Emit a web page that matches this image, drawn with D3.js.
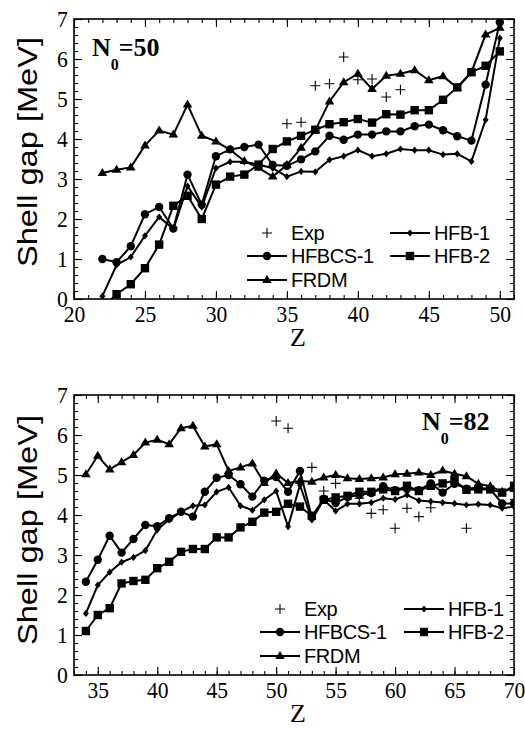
<!DOCTYPE html>
<html>
<head>
<meta charset="utf-8">
<script src="https://cdn.jsdelivr.net/npm/d3@7/dist/d3.min.js"></script>
<style>
  body { margin: 0; background: #fff; }
  svg { display: block; }
</style>
</head>
<body>
<div id="chart"></div>
<script>
// ---- data, N0 = 50 panel
const zTop = [22, 23, 24, 25, 26, 27, 28, 29, 30, 31, 32, 33, 34, 35, 36, 37, 38, 39, 40, 41, 42, 43, 44, 45, 46, 47, 48, 49, 50];
const hfbcsTop = [1.00, 0.92, 1.32, 2.12, 2.30, 1.76, 3.11, 2.36, 3.57, 3.74, 3.80, 3.86, 3.35, 3.33, 3.49, 3.69, 4.08, 3.98, 4.11, 4.11, 4.19, 4.19, 4.32, 4.36, 4.22, 4.07, 3.96, 5.36, 6.92];
const hfb1Top = [0.07, 0.85, 1.05, 1.58, 2.05, 1.75, 2.82, 2.30, 3.27, 3.43, 3.43, 3.36, 3.27, 3.06, 3.19, 3.18, 3.48, 3.57, 3.72, 3.57, 3.63, 3.75, 3.72, 3.72, 3.61, 3.63, 3.44, 4.48, 6.52];
const hfb2Top = [-0.22, 0.12, 0.37, 0.77, 1.36, 2.33, 2.58, 2.00, 2.86, 3.06, 3.11, 3.36, 3.75, 3.94, 4.08, 4.23, 4.37, 4.42, 4.50, 4.41, 4.62, 4.61, 4.72, 4.72, 4.98, 5.29, 5.67, 5.83, 6.19];
const frdmTop = [3.15, 3.23, 3.29, 3.84, 4.21, 4.11, 4.86, 4.08, 3.94, 3.73, 3.45, 3.28, 3.06, 3.35, 3.78, 4.22, 4.94, 5.42, 5.63, 5.25, 5.58, 5.63, 5.72, 5.47, 5.57, 5.28, 5.67, 6.61, 6.78];
const expTopZ = [35, 36, 37, 38, 39, 40, 41, 42, 43];
const expTop = [4.38, 4.42, 5.33, 5.38, 6.05, 5.48, 5.50, 5.05, 5.23];

// ---- data, N0 = 82 panel
const zBot = [34, 35, 36, 37, 38, 39, 40, 41, 42, 43, 44, 45, 46, 47, 48, 49, 50, 51, 52, 53, 54, 55, 56, 57, 58, 59, 60, 61, 62, 63, 64, 65, 66, 67, 68, 69, 70];
const hfbcsBot = [2.33, 2.88, 3.48, 3.06, 3.40, 3.75, 3.72, 3.92, 4.08, 3.96, 4.58, 4.93, 5.00, 4.77, 4.46, 4.86, 4.95, 4.58, 5.10, 3.95, 4.40, 4.30, 4.45, 4.50, 4.55, 4.72, 4.62, 4.65, 4.62, 4.79, 4.56, 4.78, 4.66, 4.68, 4.65, 4.29, 4.29];
const hfb1Bot = [1.54, 2.25, 2.57, 2.82, 2.94, 3.11, 3.63, 3.88, 4.08, 4.23, 4.25, 4.58, 4.69, 4.23, 4.12, 4.38, 4.60, 3.71, 4.75, 3.88, 4.38, 4.10, 4.28, 4.28, 4.31, 4.42, 4.39, 4.50, 4.36, 4.34, 4.31, 4.29, 4.25, 4.27, 4.25, 4.17, 4.21];
const hfb2Bot = [1.10, 1.50, 1.67, 2.29, 2.35, 2.38, 2.67, 2.83, 3.08, 3.15, 3.15, 3.44, 3.44, 3.69, 3.83, 4.06, 4.08, 4.28, 4.21, 3.98, 4.38, 4.44, 4.48, 4.58, 4.58, 4.64, 4.60, 4.73, 4.60, 4.73, 4.79, 4.86, 4.63, 4.64, 4.64, 4.56, 4.73];
const frdmBot = [5.02, 5.48, 5.14, 5.32, 5.50, 5.81, 5.88, 5.77, 6.17, 6.23, 5.71, 5.77, 5.10, 5.19, 5.29, 4.80, 5.04, 4.80, 4.85, 4.83, 4.94, 5.00, 4.92, 4.90, 4.92, 4.94, 5.02, 5.03, 5.06, 5.00, 5.11, 5.03, 4.97, 4.78, 4.72, 4.58, 4.67];
const expBotZ = [50, 51, 53, 54, 55, 57, 58, 59, 60, 61, 62, 63, 66];
const expBot = [6.35, 6.17, 5.19, 4.60, 4.79, 4.42, 4.04, 4.13, 3.67, 4.17, 3.96, 4.18, 3.67];

const xTicksTop = [20, 25, 30, 35, 40, 45, 50];
const xTicksBot = [35, 40, 45, 50, 55, 60, 65, 70];
const yTicks = [0, 1, 2, 3, 4, 5, 6, 7];

const legendNames = ["Exp", "HFB-1", "HFBCS-1", "HFB-2", "FRDM"];

const serif = "'Liberation Serif', 'Times New Roman', serif";
const sans = "'Liberation Sans', Arial, Helvetica, sans-serif";

const svg = d3.select("#chart")
  .append("svg")
  .attr("width", 525)
  .attr("height", 729);

// marker shapes
function marker(g, type, x, y) {
  if (type === "plus") {
    g.append("path").attr("d", `M${x - 5},${y}H${x + 5}M${x},${y - 5}V${y + 5}`)
      .attr("stroke", "#000").attr("stroke-width", 1.1).attr("fill", "none");
  } else if (type === "circle") {
    g.append("circle").attr("cx", x).attr("cy", y).attr("r", 4.2).attr("fill", "#000");
  } else if (type === "square") {
    g.append("rect").attr("x", x - 4.2).attr("y", y - 4.2).attr("width", 8.4).attr("height", 8.4).attr("fill", "#000");
  } else if (type === "triangle") {
    g.append("path").attr("d", `M${x},${y - 5}L${x + 4.8},${y + 3}L${x - 4.8},${y + 3}Z`).attr("fill", "#000");
  } else if (type === "diamond") {
    g.append("path").attr("d", `M${x},${y - 3.6}L${x + 3},${y}L${x},${y + 3.6}L${x - 3},${y}Z`).attr("fill", "#000");
  }
}

function drawPanel(p) {
  const x = d3.scaleLinear().domain(p.xDomain).range([74, 514]);
  const y = d3.scaleLinear().domain([0, 7]).range([p.bottom, p.top]);
  const g = svg.append("g");

  g.append("clipPath").attr("id", p.id)
    .append("rect")
    .attr("x", 74).attr("y", p.top)
    .attr("width", 440).attr("height", p.bottom - p.top);

  // ticks, all inward
  const minorX = d3.range(Math.ceil(p.xDomain[0]), Math.floor(p.xDomain[1]) + 1);
  const minorY = d3.range(0, 7.001, 0.2);

  g.append("g").attr("transform", `translate(0,${p.bottom})`)
    .call(d3.axisBottom(x).tickValues(minorX).tickSize(-4).tickFormat(""));
  g.append("g").attr("transform", `translate(0,${p.top})`)
    .call(d3.axisTop(x).tickValues(minorX).tickSize(-4).tickFormat(""));
  g.append("g").attr("transform", `translate(0,${p.top})`)
    .call(d3.axisTop(x).tickValues(p.xTicks).tickSize(-8).tickFormat(""));
  g.append("g").attr("transform", "translate(74,0)")
    .call(d3.axisLeft(y).tickValues(minorY).tickSize(-4).tickFormat(""));
  g.append("g").attr("transform", "translate(514,0)")
    .call(d3.axisRight(y).tickValues(minorY).tickSize(-4).tickFormat(""));
  g.append("g").attr("transform", "translate(514,0)")
    .call(d3.axisRight(y).tickValues(yTicks).tickSize(-8).tickFormat(""));

  const xAxis = g.append("g").attr("transform", `translate(0,${p.bottom})`)
    .call(d3.axisBottom(x).tickValues(p.xTicks).tickSize(-8).tickPadding(6).tickFormat(d3.format("d")));
  const yAxis = g.append("g").attr("transform", "translate(74,0)")
    .call(d3.axisLeft(y).tickValues(yTicks).tickSize(-8).tickPadding(7).tickFormat(d3.format("d")));

  g.selectAll(".domain").remove();
  g.selectAll(".tick line").attr("stroke", "#000").attr("stroke-width", 1.1);
  [xAxis, yAxis].forEach(a => a.selectAll("text")
    .attr("font-family", serif)
    .attr("font-size", 24)
    .attr("fill", "#000")
    .attr("transform", "scale(0.9,1)"));

  // frame
  g.append("rect")
    .attr("x", 74).attr("y", p.top)
    .attr("width", 440).attr("height", p.bottom - p.top)
    .attr("fill", "none").attr("stroke", "#000").attr("stroke-width", 1.6);

  // series
  const line = d3.line().x(d => x(d[0])).y(d => y(d[1]));
  const plot = g.append("g").attr("clip-path", `url(#${p.id})`);
  p.series.forEach(s => {
    const pts = p.z.map((z, i) => [z, s.values[i]]);
    plot.append("path")
      .datum(pts)
      .attr("d", line)
      .attr("fill", "none")
      .attr("stroke", "#000")
      .attr("stroke-width", 2)
      .attr("stroke-linejoin", "miter");
    pts.forEach(d => marker(plot, s.type, x(d[0]), y(d[1])));
  });
  p.expZ.forEach((z, i) => marker(plot, "plus", x(z), y(p.exp[i])));

  // legend
  const leg = g.append("g");
  const items = [
    { name: legendNames[0], type: "plus", col: 0, row: 0 },
    { name: legendNames[1], type: "diamond", col: 1, row: 0 },
    { name: legendNames[2], type: "circle", col: 0, row: 1 },
    { name: legendNames[3], type: "square", col: 1, row: 1 },
    { name: legendNames[4], type: "triangle", col: 0, row: 2 }
  ];
  const rowOff = [-66, -43, -19];
  items.forEach(it => {
    const cx = p.legX[it.col];
    const cy = p.bottom + rowOff[it.row];
    if (it.type !== "plus") {
      leg.append("line")
        .attr("x1", cx - 20).attr("x2", cx + 20)
        .attr("y1", cy).attr("y2", cy)
        .attr("stroke", "#000").attr("stroke-width", 2);
    }
    marker(leg, it.type, cx, cy);
    leg.append("text")
      .attr("x", cx + 24).attr("y", cy + 7)
      .attr("font-family", sans)
      .attr("font-size", 20)
      .attr("letter-spacing", -0.4)
      .text(it.name);
  });

  // N0 label
  const lab = g.append("text")
    .attr("x", p.labX).attr("y", p.labY)
    .attr("font-family", serif)
    .attr("font-weight", "bold")
    .attr("font-size", 26);
  lab.append("tspan").text("N");
  lab.append("tspan").attr("font-size", 16).attr("dy", 14).text("0");
  lab.append("tspan").attr("dy", -14).text(p.label);

  // axis titles
  g.append("text")
    .attr("transform", `translate(37,${p.titleY}) rotate(-90)`)
    .attr("text-anchor", "middle")
    .attr("font-family", sans)
    .attr("font-size", 27)
    .attr("textLength", 230)
    .attr("lengthAdjust", "spacingAndGlyphs")
    .text("Shell gap  [MeV]");
  g.append("text")
    .attr("x", 298).attr("y", p.bottom + 47)
    .attr("text-anchor", "middle")
    .attr("font-family", serif)
    .attr("font-size", 26)
    .text("Z");
}

drawPanel({
  id: "clipTop", xDomain: [20, 51], xTicks: xTicksTop, top: 19, bottom: 299,
  z: zTop,
  series: [
    { values: frdmTop, type: "triangle" },
    { values: hfb2Top, type: "square" },
    { values: hfbcsTop, type: "circle" },
    { values: hfb1Top, type: "diamond" }
  ],
  expZ: expTopZ, exp: expTop,
  legX: [267, 410],
  label: "=50", labX: 92, labY: 56,
  titleY: 152
});

drawPanel({
  id: "clipBot", xDomain: [33, 70], xTicks: xTicksBot, top: 395, bottom: 675,
  z: zBot,
  series: [
    { values: frdmBot, type: "triangle" },
    { values: hfb2Bot, type: "square" },
    { values: hfbcsBot, type: "circle" },
    { values: hfb1Bot, type: "diamond" }
  ],
  expZ: expBotZ, exp: expBot,
  legX: [280, 424],
  label: "=82", labX: 422, labY: 430,
  titleY: 530
});
</script>
</body>
</html>
